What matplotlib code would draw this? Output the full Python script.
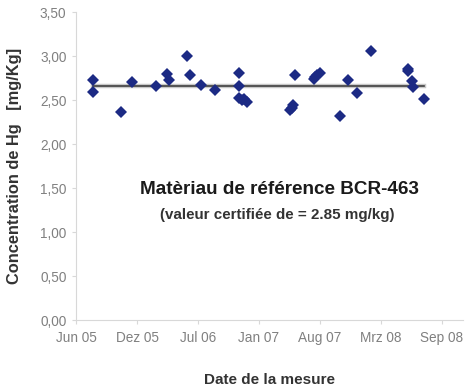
import matplotlib
matplotlib.use('Agg')
import matplotlib.pyplot as plt
import pandas as pd

# measurement dates and Hg concentration (mg/kg)
dates = ['2005-08-05', '2005-08-05', '2005-11-04', '2005-12-11', '2006-02-26',
         '2006-04-05', '2006-04-11', '2006-06-09', '2006-06-20', '2006-07-24',
         '2006-09-09', '2006-11-26', '2006-11-26', '2006-11-27', '2006-12-05',
         '2006-12-12', '2006-12-22', '2007-05-14', '2007-05-20', '2007-05-24',
         '2007-05-28', '2007-07-30', '2007-08-04', '2007-08-09', '2007-08-21',
         '2007-10-23', '2007-11-19', '2007-12-18', '2008-02-03', '2008-06-02',
         '2008-06-04', '2008-06-17', '2008-06-19', '2008-07-27']
values = [2.73, 2.59, 2.36, 2.71, 2.66,
          2.80, 2.73, 3.00, 2.78, 2.67,
          2.61, 2.81, 2.66, 2.52, 2.50,
          2.51, 2.48, 2.39, 2.41, 2.44,
          2.78, 2.74, 2.76, 2.78, 2.81,
          2.32, 2.73, 2.58, 3.06, 2.85,
          2.83, 2.72, 2.65, 2.51]
mean_value = 2.66

x_start = '2005-06-10'
x_end = '2008-11-30'
tick_dates = ['2005-06-10', '2005-12-27', '2006-07-15', '2007-01-31',
              '2007-08-19', '2008-03-06', '2008-09-22']
tick_labels = ['Jun 05', 'Dez 05', 'Jul 06', 'Jan 07', 'Aug 07', 'Mrz 08', 'Sep 08']
y_ticks = [0.0, 0.5, 1.0, 1.5, 2.0, 2.5, 3.0, 3.5]

plt.rcParams['font.family'] = ['Liberation Sans', 'DejaVu Sans']

d = pd.to_datetime(dates)

fig = plt.figure(figsize=(4.67, 3.89), dpi=100)
ax = fig.add_axes([0.163, 0.177, 0.828, 0.792])

# mean line with a soft shadow
ax.plot([d[0], d[-1]], [mean_value, mean_value], color='#c8c8c8', linewidth=3.2, zorder=1)
ax.plot([d[0], d[-1]], [mean_value, mean_value], color='#404040', linewidth=1.2, zorder=2)
ax.plot(d, values, linestyle='none', marker='D', markersize=6.3,
        color='#1c2a84', markeredgewidth=0, zorder=3)

ax.set_xlim(pd.Timestamp(x_start), pd.Timestamp(x_end))
ax.set_ylim(0, 3.5)
ax.set_xticks(pd.to_datetime(tick_dates))
ax.set_xticklabels(tick_labels)
ax.set_yticks(y_ticks)
ax.set_yticklabels([('%.2f' % v).replace('.', ',') for v in y_ticks])

for s in ['top', 'right']:
    ax.spines[s].set_visible(False)
for s in ['left', 'bottom']:
    ax.spines[s].set_color('#d8d8d8')
    ax.spines[s].set_linewidth(0.8)
ax.tick_params(axis='both', colors='#d8d8d8', labelcolor='#808080',
               labelsize=9.8, length=3, width=0.8, direction='out')
ax.tick_params(axis='x', pad=5)
ax.tick_params(axis='y', pad=4)

ax.set_ylabel('Concentration de Hg   [mg/Kg]', fontsize=11.8, weight='bold',
              color='#333333', labelpad=13)
ax.set_xlabel('Date de la mesure', fontsize=11, weight='bold', color='#333333', labelpad=20)

ax.text(0.527, 0.424, 'Matèriau de référence BCR-463', transform=ax.transAxes,
        ha='center', va='center', fontsize=13.6, weight='bold', color='#1a1a1a')
ax.text(0.52, 0.34, '(valeur certifiée de = 2.85 mg/kg)', transform=ax.transAxes,
        ha='center', va='center', fontsize=10.9, weight='bold', color='#333333')

fig.savefig('out.png', dpi=100)
